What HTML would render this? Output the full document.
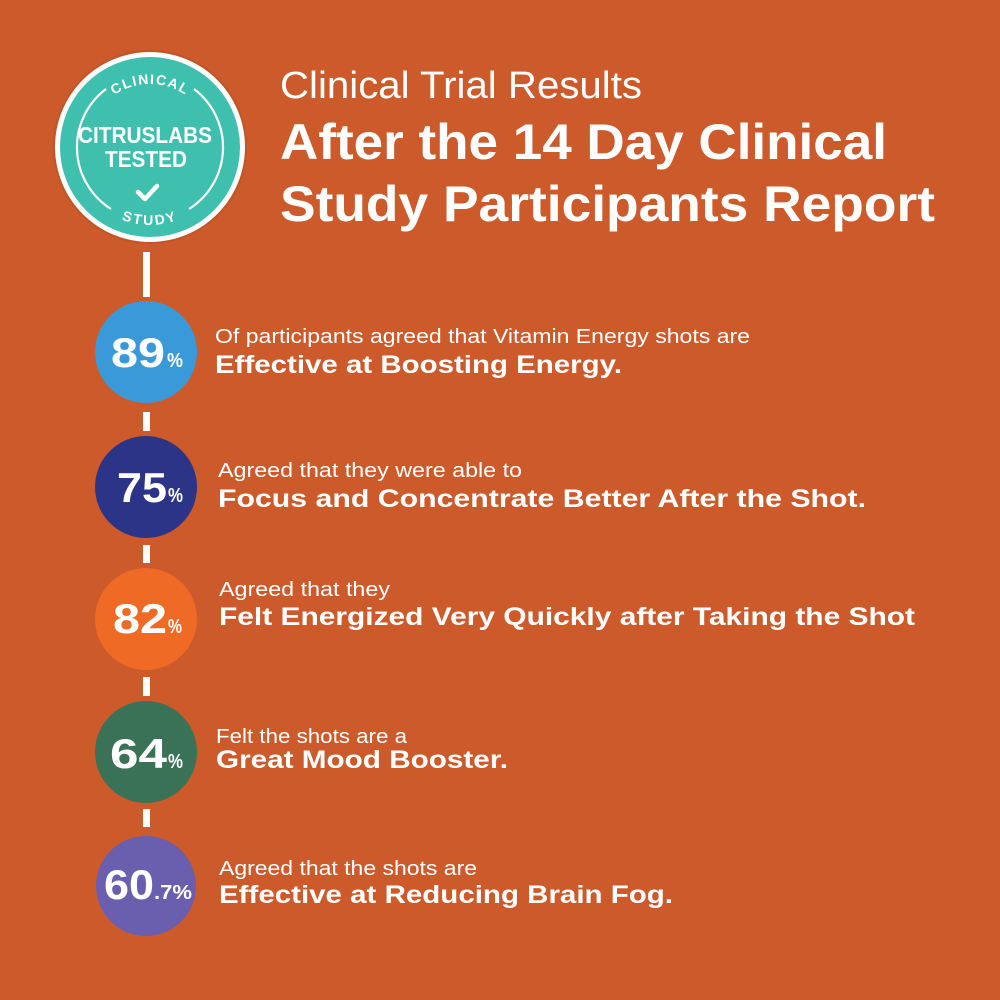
<!DOCTYPE html>
<html>
<head>
<meta charset="utf-8">
<style>
  html,body{margin:0;padding:0;background:#cc5a2b;}
  svg{display:block;}
  text{font-family:"Liberation Sans",sans-serif;fill:#fff;}
</style>
</head>
<body>
<svg width="1000" height="1000" viewBox="0 0 1000 1000" xmlns="http://www.w3.org/2000/svg">
  <rect x="0" y="0" width="1000" height="1000" fill="#cc5a2b"/>

  <!-- Badge -->
  <circle cx="150" cy="147" r="97" fill="#b84f25" opacity="0.5"/>
  <circle cx="150" cy="147" r="95" fill="#ffffff"/>
  <circle cx="150" cy="147" r="90" fill="#3fbfae"/>
  <path d="M106,89 A73,73 0 0 0 111,209" fill="none" stroke="#fff" stroke-width="2.2"/>
  <path d="M194,89 A73,73 0 0 1 189,209" fill="none" stroke="#fff" stroke-width="2.2"/>
  <defs>
    <path id="topArc" d="M87,147 A63,63 0 0 1 213,147"/>
    <path id="botArc" d="M72,147 A78,78 0 0 0 228,147"/>
  </defs>
  <text font-size="14" font-weight="bold" letter-spacing="1.4"><textPath href="#topArc" startOffset="50%" text-anchor="middle">CLINICAL</textPath></text>
  <text font-size="14" font-weight="bold" letter-spacing="2.2"><textPath href="#botArc" startOffset="50%" text-anchor="middle">STUDY</textPath></text>
  <text x="78" y="143" font-size="23" font-weight="bold" textLength="134" lengthAdjust="spacingAndGlyphs">CITRUSLABS</text>
  <text x="105" y="167" font-size="23" font-weight="bold" textLength="82" lengthAdjust="spacingAndGlyphs">TESTED</text>
  <polyline points="138,192 145,199 157,186" fill="none" stroke="#fff" stroke-width="4.5" stroke-linecap="round" stroke-linejoin="round"/>

  <!-- Header -->
  <text x="280" y="98" font-size="38" textLength="362" lengthAdjust="spacingAndGlyphs">Clinical Trial Results</text>
  <text x="280" y="159" font-size="50" font-weight="bold" textLength="607" lengthAdjust="spacingAndGlyphs">After the 14 Day Clinical</text>
  <text x="280" y="221" font-size="50" font-weight="bold" textLength="655" lengthAdjust="spacingAndGlyphs">Study Participants Report</text>

  <!-- Connectors -->
  <rect x="143" y="252" width="7" height="45" fill="#fff"/>
  <rect x="143" y="412" width="7" height="19" fill="#fff"/>
  <rect x="143" y="545" width="7" height="18" fill="#fff"/>
  <rect x="143" y="677" width="7" height="19" fill="#fff"/>
  <rect x="143" y="809" width="7" height="18" fill="#fff"/>

  <!-- Circles -->
  <circle cx="146" cy="352" r="51" fill="#3a9ad9"/>
  <circle cx="146" cy="487" r="51" fill="#2b3486"/>
  <circle cx="146" cy="619" r="51" fill="#ee6a25"/>
  <circle cx="146" cy="752" r="51" fill="#3a7258"/>
  <circle cx="146" cy="886" r="50" fill="#6a5fae"/>

  <!-- Numbers -->
  <text x="111" y="367" font-size="42" font-weight="bold" textLength="54" lengthAdjust="spacingAndGlyphs">89</text>
  <text x="167" y="367" font-size="20" font-weight="bold" textLength="16" lengthAdjust="spacingAndGlyphs">%</text>

  <text x="117" y="502" font-size="42" font-weight="bold" textLength="50" lengthAdjust="spacingAndGlyphs">75</text>
  <text x="168" y="502" font-size="20" font-weight="bold" textLength="15" lengthAdjust="spacingAndGlyphs">%</text>

  <text x="113" y="633" font-size="42" font-weight="bold" textLength="54" lengthAdjust="spacingAndGlyphs">82</text>
  <text x="168" y="633" font-size="20" font-weight="bold" textLength="14" lengthAdjust="spacingAndGlyphs">%</text>

  <text x="110" y="768" font-size="42" font-weight="bold" textLength="57" lengthAdjust="spacingAndGlyphs">64</text>
  <text x="168" y="768" font-size="20" font-weight="bold" textLength="15" lengthAdjust="spacingAndGlyphs">%</text>

  <text x="104" y="899" font-size="42" font-weight="bold" textLength="50" lengthAdjust="spacingAndGlyphs">60</text>
  <text x="154" y="899" font-size="20" font-weight="bold" textLength="38" lengthAdjust="spacingAndGlyphs">.7%</text>

  <!-- Row texts -->
  <text x="215" y="343" font-size="20" textLength="535" lengthAdjust="spacingAndGlyphs">Of participants agreed that Vitamin Energy shots are</text>
  <text x="215" y="373" font-size="25" font-weight="bold" textLength="407" lengthAdjust="spacingAndGlyphs">Effective at Boosting Energy.</text>

  <text x="218" y="477" font-size="20" textLength="304" lengthAdjust="spacingAndGlyphs">Agreed that they were able to</text>
  <text x="218" y="507" font-size="25" font-weight="bold" textLength="648" lengthAdjust="spacingAndGlyphs">Focus and Concentrate Better After the Shot.</text>

  <text x="219" y="596" font-size="20" textLength="171" lengthAdjust="spacingAndGlyphs">Agreed that they</text>
  <text x="219" y="625" font-size="25" font-weight="bold" textLength="696" lengthAdjust="spacingAndGlyphs">Felt Energized Very Quickly after Taking the Shot</text>

  <text x="216" y="743" font-size="20" textLength="191" lengthAdjust="spacingAndGlyphs">Felt the shots are a</text>
  <text x="216" y="768" font-size="25" font-weight="bold" textLength="292" lengthAdjust="spacingAndGlyphs">Great Mood Booster.</text>

  <text x="219" y="875" font-size="20" textLength="258" lengthAdjust="spacingAndGlyphs">Agreed that the shots are</text>
  <text x="219" y="903" font-size="25" font-weight="bold" textLength="454" lengthAdjust="spacingAndGlyphs">Effective at Reducing Brain Fog.</text>
</svg>
</body>
</html>
